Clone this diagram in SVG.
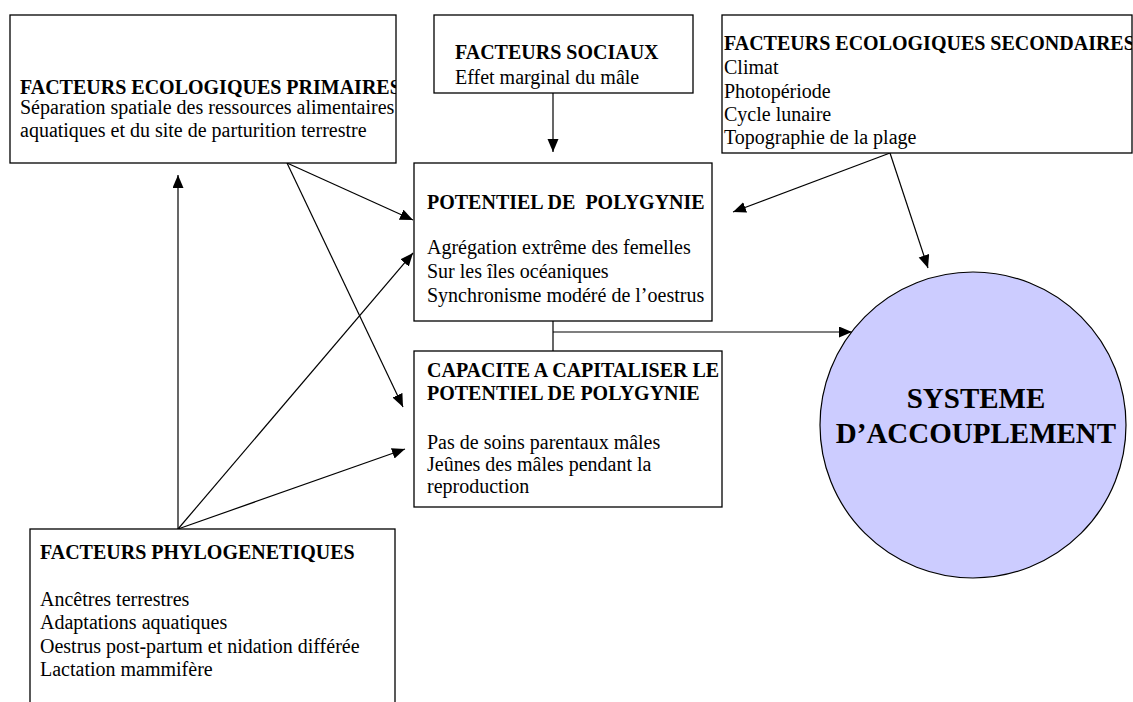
<svg xmlns="http://www.w3.org/2000/svg" width="1133" height="702" viewBox="0 0 1133 702">
<defs>
<style>
.box{fill:#ffffff;stroke:#000;stroke-width:1.3}
.t{font-family:"Liberation Serif","Times New Roman",serif;font-size:20px;fill:#000}
.b{font-weight:bold}
.c{stroke:#000;stroke-width:1.2;fill:none}
.big{font-family:"Liberation Serif","Times New Roman",serif;font-size:29px;font-weight:bold;fill:#000;text-anchor:middle}
</style>
<marker id="ah" markerUnits="userSpaceOnUse" markerWidth="14" markerHeight="12" refX="13" refY="5.5" orient="auto">
<path d="M0,0 L13,5.5 L0,11 z" fill="#000"/>
</marker>
<clipPath id="c1"><rect x="10" y="15" width="386" height="148"/></clipPath>
<clipPath id="c3"><rect x="722" y="15" width="410" height="138"/></clipPath>
<clipPath id="c5"><rect x="414" y="351" width="308" height="156"/></clipPath>
</defs>
<rect width="1133" height="702" fill="#ffffff"/>

<g id="connectors">
<line class="c" x1="553" y1="93" x2="553" y2="152" marker-end="url(#ah)"/>
<line class="c" x1="890" y1="153" x2="733" y2="212" marker-end="url(#ah)"/>
<line class="c" x1="890" y1="153" x2="928" y2="268" marker-end="url(#ah)"/>
<line class="c" x1="287" y1="163" x2="413" y2="220" marker-end="url(#ah)"/>
<line class="c" x1="287" y1="163" x2="403" y2="407" marker-end="url(#ah)"/>
<line class="c" x1="178" y1="529" x2="178" y2="175" marker-end="url(#ah)"/>
<line class="c" x1="178" y1="529" x2="413" y2="253" marker-end="url(#ah)"/>
<line class="c" x1="178" y1="529" x2="405" y2="449" marker-end="url(#ah)"/>
<line class="c" x1="553" y1="321" x2="553" y2="351"/>
<line class="c" x1="553" y1="332" x2="852" y2="332" marker-end="url(#ah)"/>
</g>

<g id="primaires">
<rect class="box" x="10" y="15" width="386" height="148"/>
<g clip-path="url(#c1)">
<text class="t b" x="20" y="94">FACTEURS ECOLOGIQUES PRIMAIRES</text>
<text class="t" x="20" y="114">Séparation spatiale des ressources alimentaires</text>
<text class="t" x="20" y="137">aquatiques et du site de parturition terrestre</text>
</g>
</g>

<g id="sociaux">
<rect class="box" x="434" y="15" width="259" height="78"/>
<text class="t b" x="455" y="59">FACTEURS SOCIAUX</text>
<text class="t" x="455" y="84">Effet marginal du mâle</text>
</g>

<g id="secondaires">
<rect class="box" x="722" y="15" width="410" height="138"/>
<g clip-path="url(#c3)">
<text class="t b" x="724" y="50">FACTEURS ECOLOGIQUES SECONDAIRES</text>
<text class="t" x="724" y="74">Climat</text>
<text class="t" x="724" y="98">Photopériode</text>
<text class="t" x="724" y="121">Cycle lunaire</text>
<text class="t" x="724" y="144">Topographie de la plage</text>
</g>
</g>

<g id="potentiel">
<rect class="box" x="414" y="163" width="298" height="158"/>
<text class="t b" x="427" y="209" xml:space="preserve">POTENTIEL DE  POLYGYNIE</text>
<text class="t" x="427" y="254">Agrégation extrême des femelles</text>
<text class="t" x="427" y="278">Sur les îles océaniques</text>
<text class="t" x="427" y="302">Synchronisme modéré de l’oestrus</text>
</g>

<g id="capacite">
<rect class="box" x="414" y="351" width="308" height="156"/>
<g clip-path="url(#c5)">
<text class="t b" x="427" y="377">CAPACITE A CAPITALISER LE</text>
<text class="t b" x="427" y="400">POTENTIEL DE POLYGYNIE</text>
<text class="t" x="427" y="449">Pas de soins parentaux mâles</text>
<text class="t" x="427" y="471">Jeûnes des mâles pendant la</text>
<text class="t" x="427" y="493">reproduction</text>
</g>
</g>

<g id="phylogenetiques">
<rect class="box" x="30" y="529" width="365" height="190"/>
<text class="t b" x="40" y="559">FACTEURS PHYLOGENETIQUES</text>
<text class="t" x="40" y="606">Ancêtres terrestres</text>
<text class="t" x="40" y="629">Adaptations aquatiques</text>
<text class="t" x="40" y="653">Oestrus post-partum et nidation différée</text>
<text class="t" x="40" y="676">Lactation mammifère</text>
</g>

<g id="systeme">
<circle cx="973" cy="425" r="153" fill="#ccccff" stroke="#000" stroke-width="1.2"/>
<text class="big" x="976" y="408">SYSTEME</text>
<text class="big" x="976" y="443">D’ACCOUPLEMENT</text>
</g>
</svg>
